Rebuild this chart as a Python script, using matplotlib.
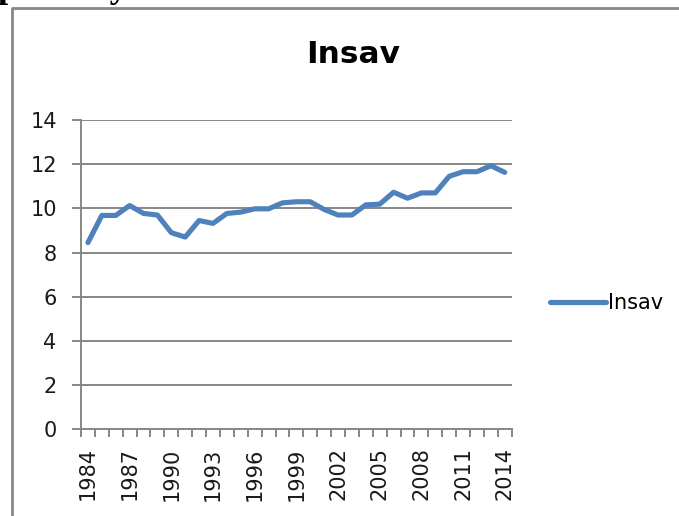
import numpy as np
import matplotlib
matplotlib.use("Agg")
import matplotlib.pyplot as plt
from matplotlib.lines import Line2D

# datos
anios = list(range(1984, 2015))
insav = [8.45, 9.68, 9.68, 10.13, 9.77, 9.70, 8.90, 8.70, 9.45, 9.32,
         9.77, 9.83, 9.98, 9.98, 10.25, 10.30, 10.30, 9.95, 9.70, 9.70,
         10.16, 10.19, 10.73, 10.46, 10.70, 10.70, 11.45, 11.66, 11.66, 11.93,
         11.63]
etiquetas_x = [str(a) for a in anios[::3]]
ticks_y = [0, 2, 4, 6, 8, 10, 12, 14]

gris = '#878787'
azul = '#4F81BD'
plt.rcParams['font.family'] = ['DejaVu Sans']

W, H = 679, 516
fig = plt.figure(figsize=(W / 100, H / 100), dpi=100)
ax = fig.add_axes([81 / W, 1 - 429.3 / H, (511.7 - 81) / W, (429.3 - 120) / H])

x = np.arange(len(anios))
ax.plot(x, insav, color=azul, linewidth=3.7, solid_joinstyle='round',
        solid_capstyle='round', label='Insav')

ax.set_xlim(-0.5, len(anios) - 0.5)
ax.set_ylim(0, 14)
ax.set_yticks(ticks_y)
ax.set_yticklabels([str(v) for v in ticks_y], fontsize=15, color='#1a1a1a')
ax.yaxis.grid(True, color=gris, linewidth=1.4)
ax.set_axisbelow(True)

# marcas menores entre categorias, etiquetas cada 3 anios
ax.set_xticks(np.arange(-0.5, len(anios)), minor=True)
ax.set_xticks(x[::3])
ax.set_xticklabels(etiquetas_x, rotation=90, fontsize=15, color='#1a1a1a')
ax.tick_params(axis='x', which='major', length=0, pad=13)
ax.tick_params(axis='x', which='minor', length=5.5, width=1.4, color=gris, direction='out')
ax.tick_params(axis='y', length=6.5, width=1.4, color=gris, pad=11)

for lado in ['top', 'right']:
    ax.spines[lado].set_visible(False)
for lado in ['left', 'bottom']:
    ax.spines[lado].set_color(gris)
    ax.spines[lado].set_linewidth(1.4)

fig.text(353 / W, 1 - 63 / H, 'Insav', fontsize=22.5, fontweight='bold',
         ha='center', va='baseline')

ax.legend(loc='center left', bbox_to_anchor=(550 / W, 1 - 303 / H),
          bbox_transform=fig.transFigure, frameon=False, fontsize=15,
          handlelength=2.7, handletextpad=0.1, borderpad=0, borderaxespad=0)

# marco del grafico (cortado a la derecha y abajo)
fig.add_artist(Line2D([12 / W, 12 / W, 1.0], [0.0, 1 - 7.5 / H, 1 - 7.5 / H],
                      transform=fig.transFigure, color=gris, linewidth=2))

# texto cortado de la pagina original
fig.text(-2 / W, 1 + 3 / H, 'pe analysis', fontsize=26, fontweight='bold',
         family='Liberation Serif', ha='left', va='baseline')

fig.savefig('out.png', dpi=100)
